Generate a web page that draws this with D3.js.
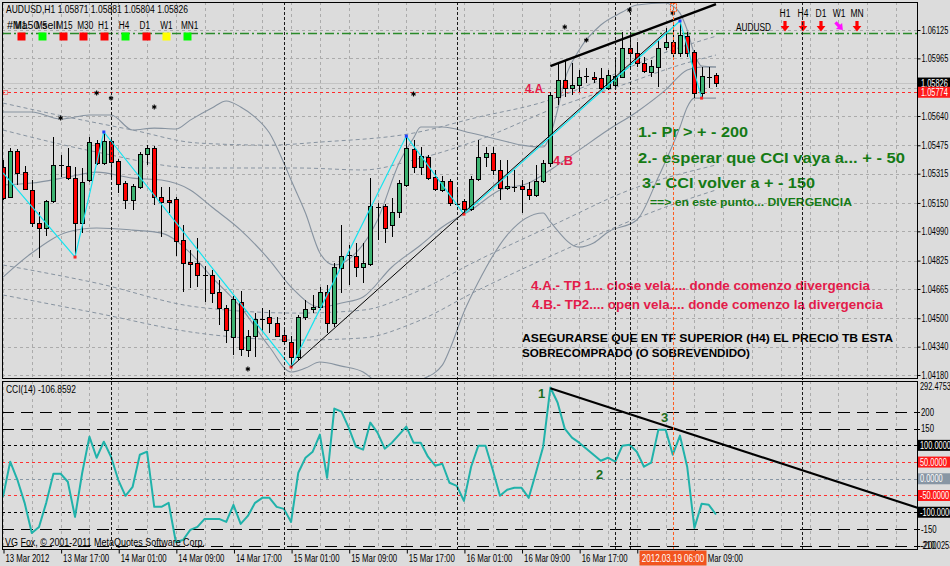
<!DOCTYPE html>
<html>
<head>
<meta charset="utf-8">
<title>AUDUSD,H1</title>
<script src="https://cdn.jsdelivr.net/npm/d3@7/dist/d3.min.js"></script>
<style>
  html, body { margin: 0; padding: 0; background: #dcdcdc; overflow: hidden; }
  svg { display: block; font-family: "Liberation Sans", Arial, sans-serif; }
</style>
</head>
<body>
<div id="chart"></div>
<script>
// ---------- data ----------
const symbol = "AUDUSD";
const period = "H1";

const priceTicks = [1.06125, 1.05965, 1.05800, 1.05640, 1.05475, 1.05315, 1.05150,
                    1.04990, 1.04825, 1.04665, 1.04500, 1.04340, 1.04180];

const timeTickBars = [0, 8, 16, 24, 32, 40, 48, 56, 64, 72, 80, 88, 96];
const timeLabels = ["13 Mar 2012", "13 Mar 17:00", "14 Mar 01:00", "14 Mar 09:00", "14 Mar 17:00",
                    "15 Mar 01:00", "15 Mar 09:00", "15 Mar 17:00", "16 Mar 01:00", "16 Mar 09:00",
                    "16 Mar 17:00", "19 Mar 01:00", "19 Mar 09:00"];

const opens = [
  1.05352, 1.05183, 1.05443, 1.05324, 1.05223, 1.05037, 1.05009, 1.05161, 1.05358, 1.05358,
  1.05290, 1.05037, 1.05279, 1.05488, 1.05375, 1.05499, 1.05386, 1.05262, 1.05166, 1.05240,
  1.05426, 1.05460, 1.05183, 1.05166, 1.05172, 1.04941, 1.04817, 1.04811, 1.04749, 1.04744,
  1.04648, 1.04557, 1.04394, 1.04591, 1.04321, 1.04400, 1.04501, 1.04507, 1.04473, 1.04405,
  1.04366, 1.04281, 1.04507, 1.04552, 1.04563, 1.04648, 1.04473, 1.04783, 1.04851, 1.04851,
  1.04789, 1.04806, 1.05133, 1.05133, 1.05025, 1.05099, 1.05251, 1.05454, 1.05352, 1.05409,
  1.05296, 1.05223, 1.05274, 1.05149, 1.05161, 1.05116, 1.05285, 1.05409, 1.05431, 1.05336,
  1.05234, 1.05245, 1.05245, 1.05228, 1.05195, 1.05274, 1.05375, 1.05747, 1.05843, 1.05798,
  1.05815, 1.05860, 1.05860, 1.05854, 1.05798, 1.05815, 1.05860, 1.06023, 1.05995, 1.05939,
  1.05888, 1.05916, 1.06029, 1.06057, 1.05995, 1.06091, 1.06001, 1.05770, 1.05866, 1.05871
];
const highs = [
  1.05392, 1.05460, 1.05454, 1.05358, 1.05279, 1.05099, 1.05166, 1.05522, 1.05420, 1.05460,
  1.05352, 1.05347, 1.05522, 1.05505, 1.05550, 1.05516, 1.05398, 1.05274, 1.05257, 1.05437,
  1.05476, 1.05471, 1.05240, 1.05240, 1.05183, 1.05025, 1.04884, 1.04952, 1.04794, 1.04772,
  1.04715, 1.04574, 1.04625, 1.04653, 1.04433, 1.04529, 1.04557, 1.04546, 1.04507, 1.04445,
  1.04400, 1.04518, 1.04603, 1.04631, 1.04676, 1.04687, 1.04811, 1.05025, 1.04913, 1.04924,
  1.04924, 1.05290, 1.05149, 1.05144, 1.05178, 1.05279, 1.05527, 1.05505, 1.05465, 1.05420,
  1.05336, 1.05302, 1.05285, 1.05223, 1.05172, 1.05302, 1.05505, 1.05465, 1.05465, 1.05392,
  1.05392, 1.05336, 1.05279, 1.05268, 1.05364, 1.05392, 1.05775, 1.05939, 1.05956, 1.05939,
  1.05899, 1.05911, 1.05888, 1.05911, 1.05899, 1.05956, 1.06114, 1.06085, 1.06057, 1.05973,
  1.05956, 1.06068, 1.06136, 1.06170, 1.06176, 1.06114, 1.06012, 1.05916, 1.05916, 1.05881
];
const lows = [
  1.05166, 1.05178, 1.05251, 1.05223, 1.05014, 1.04839, 1.04963, 1.05149, 1.05296, 1.05279,
  1.04851, 1.04980, 1.05268, 1.05364, 1.05364, 1.05296, 1.05206, 1.05116, 1.05110, 1.05228,
  1.05364, 1.05138, 1.04958, 1.05093, 1.04851, 1.04648, 1.04670, 1.04676, 1.04591, 1.04586,
  1.04462, 1.04360, 1.04293, 1.04287, 1.04281, 1.04281, 1.04422, 1.04417, 1.04394, 1.04349,
  1.04225, 1.04264, 1.04490, 1.04529, 1.04546, 1.04417, 1.04450, 1.04642, 1.04687, 1.04732,
  1.04698, 1.04794, 1.04941, 1.04924, 1.04958, 1.05065, 1.05240, 1.05319, 1.05307, 1.05279,
  1.05217, 1.05212, 1.05133, 1.05133, 1.05087, 1.05104, 1.05274, 1.05352, 1.05307, 1.05166,
  1.05223, 1.05212, 1.05093, 1.05166, 1.05183, 1.05262, 1.05352, 1.05702, 1.05747, 1.05758,
  1.05775, 1.05826, 1.05826, 1.05787, 1.05787, 1.05798, 1.05854, 1.05916, 1.05916, 1.05882,
  1.05860, 1.05803, 1.06012, 1.05973, 1.05973, 1.05973, 1.05741, 1.05741, 1.05798, 1.05804
];
const closes = [
  1.05178, 1.05443, 1.05319, 1.05228, 1.05037, 1.05009, 1.05161, 1.05364, 1.05364, 1.05290,
  1.05037, 1.05268, 1.05493, 1.05375, 1.05499, 1.05381, 1.05257, 1.05166, 1.05245, 1.05426,
  1.05460, 1.05183, 1.05155, 1.05155, 1.04935, 1.04811, 1.04806, 1.04744, 1.04744, 1.04642,
  1.04557, 1.04433, 1.04608, 1.04326, 1.04400, 1.04495, 1.04495, 1.04473, 1.04400, 1.04371,
  1.04281, 1.04507, 1.04552, 1.04563, 1.04648, 1.04473, 1.04789, 1.04851, 1.04856, 1.04789,
  1.04811, 1.05133, 1.05127, 1.05009, 1.05099, 1.05262, 1.05460, 1.05352, 1.05414, 1.05290,
  1.05228, 1.05274, 1.05149, 1.05144, 1.05116, 1.05285, 1.05409, 1.05431, 1.05336, 1.05234,
  1.05245, 1.05240, 1.05228, 1.05195, 1.05274, 1.05375, 1.05758, 1.05843, 1.05798, 1.05815,
  1.05860, 1.05866, 1.05849, 1.05798, 1.05871, 1.05866, 1.06023, 1.05995, 1.05939, 1.05894,
  1.05922, 1.06023, 1.06057, 1.05995, 1.06097, 1.05995, 1.05770, 1.05866, 1.05860, 1.05826
];

const cci = [
  -54, 51, -3, -72, -162, -144, -72, 15, 15, -9,
  -114, 18, 126, 63, 111, 66, -3, -51, -24, 72,
  81, -84, -84, -72, -189, -183, -153, -144, -120, -120,
  -120, -129, -78, -135, -111, -72, -57, -57, -84, -90,
  -129, 18, 63, 81, 132, 3, 210, 201, 153, 96,
  87, 168, 138, 90, 108, 132, 156, 108, 108, 66,
  39, 45, -12, -21, -66, 36, 99, 99, 27, -51,
  -33, -27, -27, -57, 18, 96, 273, 228, 150, 123,
  108, 90, 72, 54, 63, 51, 99, 102, 81, 36,
  48, 147, 147, 72, 129, 36, -147, -75, -78, -106.8592
];
const cciRange = [-210.0253, 292.4753];
const cciDashLevels = [200, 150, -150, -200];
const cciBoxLevels = [100, 50, 0, -50, -100];

// bands: [bar, price]
const bbUpper = [[0,1.05663],[4,1.05663],[8,1.05623],[12,1.05646],[15,1.05646],[18,1.05561],[21,1.05572],
  [24,1.05567],[26,1.05617],[29,1.05685],[31,1.05725],[33,1.05691],[35,1.05634],[37,1.05544],[39,1.05375],
  [40,1.05279],[42,1.05093],[44,1.04868],[46,1.04800],[49,1.04868],[52,1.05054],[55,1.05375],[57,1.05516],
  [58,1.05578],[61,1.05578],[65,1.05544],[69,1.05505],[72,1.05476],[75,1.05465],[76,1.05533],[77,1.05674],
  [78,1.05843],[80,1.06012],[83,1.06153],[86,1.06226],[88,1.06266],[92,1.06277],[93,1.06260],[94,1.06220],
  [95,1.06125],[96,1.05990],[97,1.05922],[99,1.05916]];
const bbMiddle = [[0,1.05251],[4,1.05262],[9,1.05296],[13,1.05324],[18,1.05290],[22,1.05279],[26,1.05223],
  [29,1.05127],[33,1.04997],[37,1.04828],[40,1.04676],[44,1.04563],[47,1.04586],[50,1.04620],[54,1.04789],
  [58,1.04913],[61,1.05014],[65,1.05110],[69,1.05223],[73,1.05262],[76,1.05336],[78,1.05392],[80,1.05448],
  [84,1.05561],[88,1.05663],[92,1.05787],[95,1.05900],[97,1.05916],[99,1.05916]];
const bbLower = [[0,1.04732],[4,1.04868],[9,1.04986],[13,1.05009],[18,1.04997],[22,1.04980],[26,1.04868],
  [29,1.04732],[33,1.04563],[37,1.04338],[40,1.04197],[42,1.04219],[44,1.04253],[47,1.04230],[50,1.04197],
  [52,1.04140],[55,1.04118],[58,1.04152],[61,1.04236],[62,1.04321],[64,1.04535],[66,1.04704],[70,1.04969],
  [75,1.05093],[76,1.05043],[80,1.04901],[82,1.04924],[84,1.04986],[88,1.05054],[91,1.05296],[94,1.05578],
  [95,1.05690],[96,1.05741],[99,1.05741]];
const envOuterUp = [[0,1.05713],[9,1.05634],[18,1.05561],[27,1.05488],[37,1.05476],[44,1.05493],[57,1.05544],
  [66,1.05634],[75,1.05719],[83,1.05843],[91,1.05984],[99,1.06090]];
const envInnerUp = [[0,1.05561],[13,1.05437],[27,1.05347],[41,1.05347],[50,1.05336],[57,1.05392],[66,1.05505],
  [77,1.05691],[86,1.05815],[94,1.05928],[99,1.05984]];
const envInnerDn = [[0,1.04800],[13,1.04698],[27,1.04563],[41,1.04529],[50,1.04546],[57,1.04642],[66,1.04828],
  [77,1.05037],[87,1.05223],[99,1.05364]];
const envOuterDn = [[0,1.04631],[13,1.04529],[27,1.04417],[41,1.04377],[50,1.04389],[57,1.04473],[66,1.04659],
  [77,1.04868],[92,1.05127],[99,1.05223]];

const zigzag = [[0,1.05319],[10,1.04845],[14,1.05550],[40,1.04225],[56,1.05527],[64,1.05087],[94,1.06176],[97,1.05741]];
const fractals = [[8,1.05629],[13,1.05770],[15,1.05741],[21,1.05691],[34,1.04214],[57,1.05764],
                  [78,1.06142],[81,1.06068],[87,1.06238],[93,1.06221]];
const priceTrend = [[40,1.04225],[92,1.06114]];
const resistTrend = [[76,1.05922],[99,1.06271]];
const cciTrend = [[76,271],[127,-87]];

const daySeparators = [15, 39, 63, 87, 111];
const extraVLines = [85];
const crossBar = 93;
const crossLabel = "2012.03.19 06:00";
const markPrice = 1.05774;
const greenLevel = 1.06110;

const tfNames = ["M1", "M5", "M15", "M30", "H1", "H4", "D1", "W1", "MN1"];
const tfColors = ["#ff0000", "#00ff00", "#ff0000", "#ff0000", "#ff0000", "#00ff00", "#ff0000", "#ffff00", "#00ff00"];
const trendNames = ["H1", "H4", "D1", "W1", "MN"];
const trendDirs = ["down", "down", "down", "downright", "down"];

// ---------- layout ----------
const width = 950, height = 566;
const main = { left: 2, right: 917, top: 2, bottom: 378 };
const sub = { top: 381, bottom: 549 };
const green = "#157a15", red = "#e31b4a";

const svg = d3.select("#chart").append("svg").attr("width", width).attr("height", height);
svg.append("rect").attr("width", width).attr("height", height).attr("fill", "#dcdcdc");

const x = d3.scaleLinear().domain([0, 99]).range([3, 716]);
const y = d3.scaleLinear().domain([1.04180, 1.06125]).range([375, 30]);
const yc = d3.scaleLinear().domain(cciRange).range([sub.bottom, sub.top]);
const px = v => Math.round(v) + 0.5;

function squeeze(sel, k) {
    sel.each(function () {
        const w = this.getComputedTextLength();
        d3.select(this).attr("textLength", w * k).attr("lengthAdjust", "spacingAndGlyphs");
    });
}
function fit(sel, w) {
    return sel.attr("textLength", w).attr("lengthAdjust", "spacingAndGlyphs");
}

const defs = svg.append("defs");
defs.append("clipPath").attr("id", "clipMain").append("rect")
    .attr("x", main.left).attr("y", main.top)
    .attr("width", main.right - main.left).attr("height", main.bottom - main.top);
defs.append("clipPath").attr("id", "clipSub").append("rect")
    .attr("x", main.left).attr("y", sub.top)
    .attr("width", main.right - main.left).attr("height", sub.bottom - sub.top);

const gMain = svg.append("g").attr("clip-path", "url(#clipMain)");
const gSub = svg.append("g").attr("clip-path", "url(#clipSub)");

// grid
const gridBars = d3.range(0, 132, 4);
[[gMain, main.top, main.bottom], [gSub, sub.top, sub.bottom]].forEach(([g, t, b]) => {
    g.append("g").selectAll("line").data(gridBars).join("line")
        .attr("x1", d => px(x(d))).attr("x2", d => px(x(d)))
        .attr("y1", t).attr("y2", b)
        .attr("stroke", "#ababab").attr("stroke-dasharray", "3,3");
});
gMain.append("g").selectAll("line").data(priceTicks).join("line")
    .attr("x1", main.left).attr("x2", main.right)
    .attr("y1", d => px(y(d))).attr("y2", d => px(y(d)))
    .attr("stroke", "#ababab").attr("stroke-dasharray", "3,3");

// horizontal levels in main
gMain.append("line")
    .attr("x1", main.left).attr("x2", main.right)
    .attr("y1", px(y(greenLevel))).attr("y2", px(y(greenLevel)))
    .attr("stroke", "#2a8a2a").attr("stroke-width", 1.3).attr("stroke-dasharray", "9,3,2,3");
gMain.append("line")
    .attr("x1", main.left).attr("x2", main.right)
    .attr("y1", px(y(closes[99]))).attr("y2", px(y(closes[99])))
    .attr("stroke", "#c4c4c4");
gMain.append("line")
    .attr("x1", main.left).attr("x2", main.right)
    .attr("y1", px(y(markPrice))).attr("y2", px(y(markPrice)))
    .attr("stroke", "#ff2a2a").attr("stroke-dasharray", "3,3");
gMain.append("rect")
    .attr("x", 3.5).attr("y", px(y(markPrice)) - 2).attr("width", 4).attr("height", 4)
    .attr("fill", "none").attr("stroke", "#ff2a2a").attr("stroke-dasharray", "1,1");

// bands
const smooth = d3.line().x(d => x(d[0])).y(d => y(d[1])).curve(d3.curveMonotoneX);
[bbUpper, bbMiddle, bbLower].forEach(b => {
    gMain.append("path").attr("d", smooth(b)).attr("fill", "none")
        .attr("stroke", "#8793a0").attr("stroke-width", 1.1);
});
[envOuterUp, envInnerUp, envInnerDn, envOuterDn].forEach(b => {
    gMain.append("path").attr("d", smooth(b)).attr("fill", "none")
        .attr("stroke", "#8793a0").attr("stroke-width", 1).attr("stroke-dasharray", "4,3");
});

// candles
const bars = d3.range(opens.length).map(i => ({ i, o: opens[i], h: highs[i], l: lows[i], c: closes[i] }));
const gCandles = gMain.append("g").attr("shape-rendering", "crispEdges");
gCandles.selectAll("line.wick").data(bars).join("line")
    .attr("class", "wick")
    .attr("x1", d => px(x(d.i))).attr("x2", d => px(x(d.i)))
    .attr("y1", d => y(d.h)).attr("y2", d => y(d.l))
    .attr("stroke", "#000");
gCandles.selectAll("rect.body").data(bars.filter(d => Math.abs(y(d.o) - y(d.c)) >= 1.5)).join("rect")
    .attr("class", "body")
    .attr("x", d => Math.round(x(d.i)) - 2 + 0.5)
    .attr("y", d => Math.round(Math.min(y(d.o), y(d.c))) + 0.5)
    .attr("width", 4)
    .attr("height", d => Math.max(1, Math.round(Math.abs(y(d.o) - y(d.c)))))
    .attr("fill", d => d.c >= d.o ? "#3cb371" : "#ff0000")
    .attr("stroke", "#000");
gCandles.selectAll("line.doji").data(bars.filter(d => Math.abs(y(d.o) - y(d.c)) < 1.5)).join("line")
    .attr("class", "doji")
    .attr("x1", d => Math.round(x(d.i)) - 2).attr("x2", d => Math.round(x(d.i)) + 3)
    .attr("y1", d => px(y(d.c))).attr("y2", d => px(y(d.c)))
    .attr("stroke", "#000");

// zigzag
const straight = d3.line().x(d => x(d[0])).y(d => y(d[1]));
gMain.append("path").attr("d", straight(zigzag)).attr("fill", "none")
    .attr("stroke", "#14e4f0").attr("stroke-width", 1.2);
gMain.selectAll("rect.zz").data(zigzag.slice(1)).join("rect")
    .attr("class", "zz")
    .attr("x", d => x(d[0]) - 1.5).attr("y", d => y(d[1]) - 1.5)
    .attr("width", 3).attr("height", 3)
    .attr("fill", (d, k) => k % 2 === 0 ? "#ff2020" : "#2040ff");

// trend lines
gMain.append("path").attr("d", straight(priceTrend)).attr("fill", "none")
    .attr("stroke", "#000").attr("stroke-width", 1);
gMain.append("path").attr("d", straight(resistTrend)).attr("fill", "none")
    .attr("stroke", "#000").attr("stroke-width", 2.4);

// fractal marks
gMain.selectAll("path.fr").data(fractals).join("path")
    .attr("class", "fr")
    .attr("transform", d => `translate(${x(d[0])},${y(d[1])})`)
    .attr("d", d3.symbol(d3.symbolAsterisk, 16))
    .attr("fill", "none").attr("stroke", "#000").attr("stroke-width", 1.1);

// texts on the price chart
const notes = [
    { t: "4.A", x: 525, y: 93, s: 13, w: 18, c: red },
    { t: "4.B", x: 553, y: 165, s: 13, w: 20, c: red },
    { t: "1.- Pr > + - 200", x: 638, y: 137, s: 15, w: 110, c: green },
    { t: "2.- esperar que CCI vaya a... + - 50", x: 638, y: 163, s: 15, w: 267, c: green },
    { t: "3.- CCI volver a + - 150", x: 642, y: 188, s: 15, w: 173, c: green },
    { t: "==> en este punto... DIVERGENCIA", x: 650, y: 205.5, s: 10, w: 202, c: green },
    { t: "4.A.- TP 1... close vela.... donde comenzo divergencia", x: 531, y: 290, s: 12, w: 339, c: red },
    { t: "4.B.- TP2.... open vela.... donde comenzo la divergencia", x: 532, y: 309, s: 12, w: 351, c: red },
    { t: "ASEGURARSE QUE EN TF SUPERIOR (H4) EL PRECIO TB ESTA", x: 522, y: 342, s: 11, w: 371, c: "#000" },
    { t: "SOBRECOMPRADO (O SOBREVENDIDO)", x: 522, y: 357, s: 11, w: 228, c: "#000" }
];
notes.forEach(n => {
    fit(gMain.append("text").attr("x", n.x).attr("y", n.y).text(n.t)
        .attr("font-size", n.s).attr("font-weight", "bold").attr("fill", n.c), n.w);
});

// header
fit(svg.append("text").attr("x", 6).attr("y", 13).attr("font-size", 10.5)
    .text(`${symbol},${period}  ${opens[99].toFixed(5)} ${highs[99].toFixed(5)} ${lows[99].toFixed(5)} ${closes[99].toFixed(5)}`), 182);

// timeframe squares
const tfLeft = k => 17 + k * 20.75;
svg.append("g").selectAll("rect").data(tfColors).join("rect")
    .attr("x", (d, k) => Math.round(tfLeft(k)) + 0.5).attr("y", 32.5)
    .attr("width", 8).attr("height", 8).attr("fill", d => d).attr("stroke", "none");
fit(svg.append("text").attr("x", 7).attr("y", 29).attr("font-size", 10).text("#Ma50 sell"), 51);
const tfText = svg.append("g").selectAll("text").data(tfNames).join("text")
    .attr("x", (d, k) => tfLeft(k) - 2).attr("y", 29).attr("font-size", 10).text(d => d);
squeeze(tfText, 0.82);

// top-right trend panel
fit(svg.append("text").attr("x", 736).attr("y", 31).attr("font-size", 10).text(symbol), 35);
const trendX = k => 785 + k * 18;
svg.append("g").selectAll("text").data(trendNames).join("text")
    .attr("x", (d, k) => trendX(k)).attr("y", 17).attr("font-size", 10)
    .attr("text-anchor", "middle").text(d => d)
    .call(squeeze, 0.85);
svg.append("g").selectAll("path").data(trendDirs).join("path")
    .attr("d", (d, k) => {
        const cx = trendX(k), t = 21;
        return `M${cx - 1.6},${t} h3.2 v5 h2.8 l-4.4,5.5 l-4.4,-5.5 h2.8 z`;
    })
    .attr("transform", (d, k) => d === "downright" ? `rotate(-45,${trendX(k)},${26})` : null)
    .attr("fill", d => d === "downright" ? "#ff10ff" : "#ff0000");

// ---------- CCI pane ----------
gSub.append("g").selectAll("line").data(cciDashLevels).join("line")
    .attr("x1", main.left).attr("x2", main.right)
    .attr("y1", d => px(yc(d))).attr("y2", d => px(yc(d)))
    .attr("stroke", "#000").attr("stroke-dasharray", "12,7");
gSub.append("g").selectAll("line").data(cciBoxLevels).join("line")
    .attr("x1", main.left).attr("x2", main.right)
    .attr("y1", d => px(yc(d))).attr("y2", d => px(yc(d)))
    .attr("stroke", d => Math.abs(d) === 100 ? "#000" : (d === 0 ? "#8896a4" : "#ff3030"))
    .attr("stroke-dasharray", "3,3");

const cciLine = d3.line().x((d, i) => x(i)).y(d => yc(d));
gSub.append("path").attr("d", cciLine(cci)).attr("fill", "none")
    .attr("stroke", "#20b2aa").attr("stroke-width", 2).attr("stroke-linejoin", "round");
gSub.append("path")
    .attr("d", d3.line().x(d => x(d[0])).y(d => yc(d[1]))(cciTrend))
    .attr("fill", "none").attr("stroke", "#000").attr("stroke-width", 2.2);

[["1", 538, 398], ["2", 596, 479], ["3", 661, 422]].forEach(([t, tx, ty]) => {
    gSub.append("text").attr("x", tx).attr("y", ty).text(t)
        .attr("font-size", 13).attr("font-weight", "bold").attr("fill", "#1d6e1d");
});

fit(svg.append("text").attr("x", 6).attr("y", 393).attr("font-size", 10)
    .text(`CCI(14) ${cci[cci.length - 1].toFixed(4)}`), 70);
fit(svg.append("text").attr("x", 5).attr("y", 546).attr("font-size", 10)
    .text("VG Fox, \u00a9 2001-2011 MetaQuotes Software Corp."), 200);

// ---------- vertical lines across both panes ----------
const gV = svg.append("g");
gV.selectAll("line.day").data(daySeparators.concat(extraVLines)).join("line")
    .attr("class", "day")
    .attr("x1", d => px(x(d))).attr("x2", d => px(x(d)))
    .attr("y1", main.top).attr("y2", sub.bottom)
    .attr("stroke", "#1a1a1a").attr("stroke-dasharray", "3,2");
gV.append("line")
    .attr("x1", px(x(crossBar))).attr("x2", px(x(crossBar)))
    .attr("y1", main.top).attr("y2", sub.bottom)
    .attr("stroke", "#ff5a1e").attr("stroke-dasharray", "3,2");
gV.append("rect")
    .attr("x", px(x(crossBar)) - 3).attr("y", main.top + 1.5).attr("width", 6).attr("height", 8)
    .attr("fill", "none").attr("stroke", "#ff5a1e").attr("stroke-dasharray", "2,1");

// ---------- frames ----------
const frame = svg.append("g").attr("fill", "none").attr("stroke", "#000").attr("shape-rendering", "crispEdges");
frame.append("rect").attr("x", main.left + 0.5).attr("y", main.top + 0.5)
    .attr("width", main.right - main.left).attr("height", main.bottom - main.top);
frame.append("rect").attr("x", main.left + 0.5).attr("y", sub.top + 0.5)
    .attr("width", main.right - main.left).attr("height", sub.bottom - sub.top);

// ---------- price axis ----------
const axisFont = "Liberation Sans, Arial, sans-serif";
const yAxis = d3.axisRight(y).tickValues(priceTicks).tickFormat(d3.format(".5f"))
    .tickSize(3).tickPadding(1);
const gY = svg.append("g").attr("transform", `translate(${main.right + 0.5},0)`).call(yAxis);
gY.select(".domain").remove();
gY.selectAll("text").attr("font-size", 10).attr("font-family", axisFont)
    .attr("fill", "#000").call(squeeze, 0.74);

function priceBox(v, bg) {
    const cy = y(v);
    svg.append("rect").attr("x", main.right + 1).attr("y", cy - 5.5).attr("width", width - main.right).attr("height", 11)
        .attr("fill", bg);
    svg.append("text").attr("x", main.right + 4).attr("y", cy + 3.6).attr("font-size", 10)
        .attr("fill", "#fff").text(v.toFixed(5)).call(squeeze, 0.74);
}
priceBox(closes[99], "#000");
priceBox(markPrice, "#ff1a1a");

// ---------- CCI axis ----------
const gC = svg.append("g");
gC.selectAll("text.lv").data(cciDashLevels).join("text")
    .attr("class", "lv")
    .attr("x", main.right + 4).attr("y", d => yc(d) + 3.6).attr("font-size", 10)
    .text(d => d).call(squeeze, 0.78);
gC.selectAll("line.lt").data(cciDashLevels).join("line")
    .attr("class", "lt")
    .attr("x1", main.right).attr("x2", main.right + 3)
    .attr("y1", d => px(yc(d))).attr("y2", d => px(yc(d))).attr("stroke", "#000");
cciBoxLevels.forEach(v => {
    const bg = Math.abs(v) === 100 ? "#000" : (v === 0 ? "#8896a4" : "#ff1a1a");
    gC.append("rect").attr("x", main.right + 1).attr("y", yc(v) - 5.5)
        .attr("width", width - main.right).attr("height", 11).attr("fill", bg);
    gC.append("text").attr("x", main.right + 3).attr("y", yc(v) + 3.6).attr("font-size", 10)
        .attr("fill", "#fff").text(v.toFixed(4)).call(squeeze, 0.74);
});
gC.append("text").attr("x", main.right + 3).attr("y", sub.top + 9).attr("font-size", 10)
    .text(cciRange[1].toFixed(4)).call(squeeze, 0.74);
gC.append("text").attr("x", main.right + 3).attr("y", sub.bottom).attr("font-size", 10)
    .text(cciRange[0].toFixed(4)).call(squeeze, 0.74);

// ---------- time axis ----------
const xAxis = d3.axisBottom(x).tickValues(timeTickBars)
    .tickFormat((d, k) => timeLabels[k]).tickSize(4).tickPadding(1);
const gX = svg.append("g").attr("transform", `translate(0,${sub.bottom + 0.5})`).call(xAxis);
gX.select(".domain").remove();
gX.selectAll(".tick line").attr("transform", "translate(0.5,0)");
gX.selectAll("text").attr("font-size", 10).attr("font-family", axisFont)
    .attr("text-anchor", "start").attr("x", 2).attr("fill", "#000").call(squeeze, 0.78);

const cx = px(x(crossBar));
svg.append("rect").attr("x", cx - 34).attr("y", sub.bottom + 1.5).attr("width", 67).attr("height", 15)
    .attr("fill", "#f2541f");
svg.append("text").attr("x", cx - 0.5).attr("y", sub.bottom + 12.5).attr("font-size", 10)
    .attr("text-anchor", "middle").attr("fill", "#fff").text(crossLabel).call(squeeze, 0.8);
</script>
</body>
</html>
